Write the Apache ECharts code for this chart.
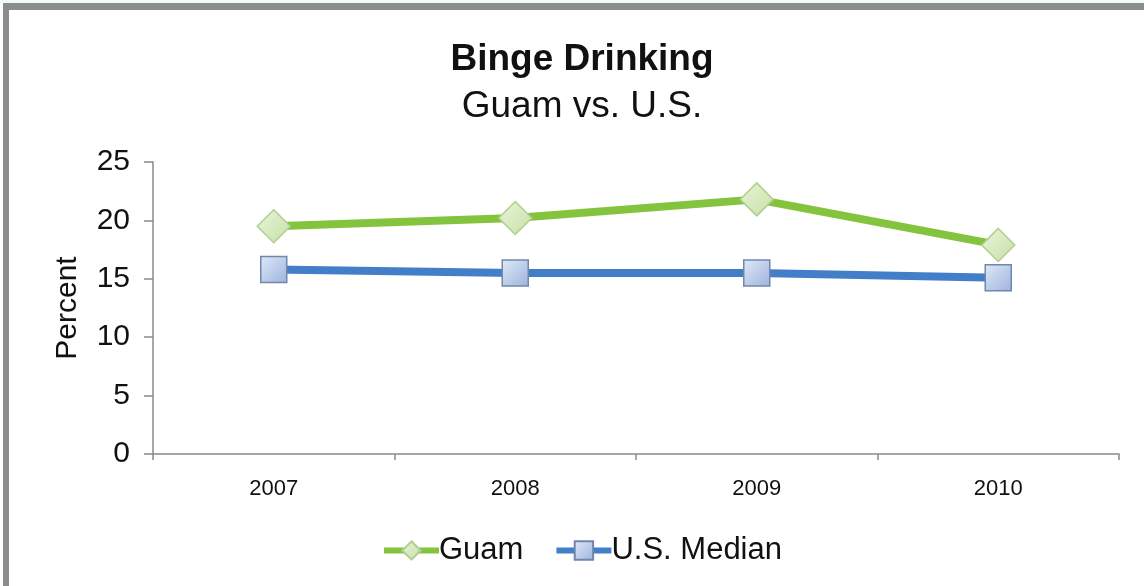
<!DOCTYPE html>
<html>
<head>
<meta charset="utf-8">
<script src="https://cdn.jsdelivr.net/npm/echarts@6/dist/echarts.min.js"></script>
<style>
html,body{margin:0;padding:0;background:#fff;}
#chart{width:1144px;height:586px;}
</style>
</head>
<body>
<div id="chart"></div>
<script>
const titleText = 'Binge Drinking';
const subtitleText = 'Guam vs. U.S.';
const yAxisName = 'Percent';
const years = ['2007', '2008', '2009', '2010'];
const guam = [19.5, 20.2, 21.8, 17.9];
const usMedian = [15.8, 15.5, 15.5, 15.1];
const seriesNames = ['Guam', 'U.S. Median'];

const FONT = '"Liberation Sans", Arial, sans-serif';
const chart = echarts.init(document.getElementById('chart'), null, {renderer: 'canvas'});

const option = {
  backgroundColor: '#ffffff',
  animation: false,
  graphic: [
    {type: 'rect', shape: {x: 0, y: 0, width: 1144, height: 3}, style: {fill: '#f1fafa'}, silent: true, z: 100},
    {type: 'rect', shape: {x: 3, y: 3, width: 1141, height: 7}, style: {fill: '#8c8c8c'}, silent: true, z: 100},
    {type: 'rect', shape: {x: 3, y: 3, width: 6, height: 583}, style: {fill: '#8c8c8c'}, silent: true, z: 100}
  ],
  title: {
    text: titleText,
    subtext: subtitleText,
    left: 582,
    top: 41,
    textAlign: 'center',
    itemGap: 10,
    padding: 0,
    textStyle: {fontFamily: FONT, fontSize: 37, fontWeight: 'bold', color: '#111'},
    subtextStyle: {fontFamily: FONT, fontSize: 37, fontWeight: 'normal', color: '#111'}
  },
  legend: {
    data: seriesNames,
    left: 376,
    top: 530,
    itemWidth: 55,
    itemHeight: 23,
    itemGap: 30,
    lineStyle: {width: 6},
    textStyle: {fontFamily: FONT, fontSize: 31, color: '#111', padding: [0, 0, 0, -5]}
  },
  grid: {left: 153, right: 25, top: 162, bottom: 132, containLabel: false},
  xAxis: {
    type: 'category',
    data: years,
    boundaryGap: true,
    axisLine: {lineStyle: {color: '#8a8a8a', width: 1.5}},
    axisTick: {show: true, length: 6, lineStyle: {color: '#8a8a8a', width: 1.5}},
    axisLabel: {fontFamily: FONT, fontSize: 22, color: '#111', margin: 24},
    splitLine: {show: false}
  },
  yAxis: {
    type: 'value',
    min: 0,
    max: 25,
    interval: 5,
    name: yAxisName,
    nameLocation: 'middle',
    nameGap: 70,
    nameTextStyle: {fontFamily: FONT, fontSize: 30, color: '#111'},
    axisLine: {show: true, lineStyle: {color: '#8a8a8a', width: 1.5}},
    axisTick: {show: true, length: 9, lineStyle: {color: '#8a8a8a', width: 1.5}},
    axisLabel: {fontFamily: FONT, fontSize: 30, color: '#111', margin: 23},
    splitLine: {show: false}
  },
  series: [
    {
      name: seriesNames[0],
      type: 'line',
      data: guam,
      symbol: 'diamond',
      symbolSize: 33,
      lineStyle: {color: '#84c33e', width: 8},
      itemStyle: {
        color: new echarts.graphic.LinearGradient(0, 0, 1, 1, [
          {offset: 0, color: '#eaf4dc'},
          {offset: 1, color: '#c6e0a4'}
        ]),
        borderColor: '#b0cf8e',
        borderWidth: 1.5
      },
      z: 3
    },
    {
      name: seriesNames[1],
      type: 'line',
      data: usMedian,
      symbol: 'rect',
      symbolSize: 26,
      lineStyle: {color: '#437ec8', width: 8},
      itemStyle: {
        color: new echarts.graphic.LinearGradient(0, 0, 1, 1, [
          {offset: 0, color: '#e0e9f7'},
          {offset: 1, color: '#9db3dd'}
        ]),
        borderColor: '#7086ad',
        borderWidth: 1.5
      },
      z: 2
    }
  ]
};
chart.setOption(option);
</script>
</body>
</html>
